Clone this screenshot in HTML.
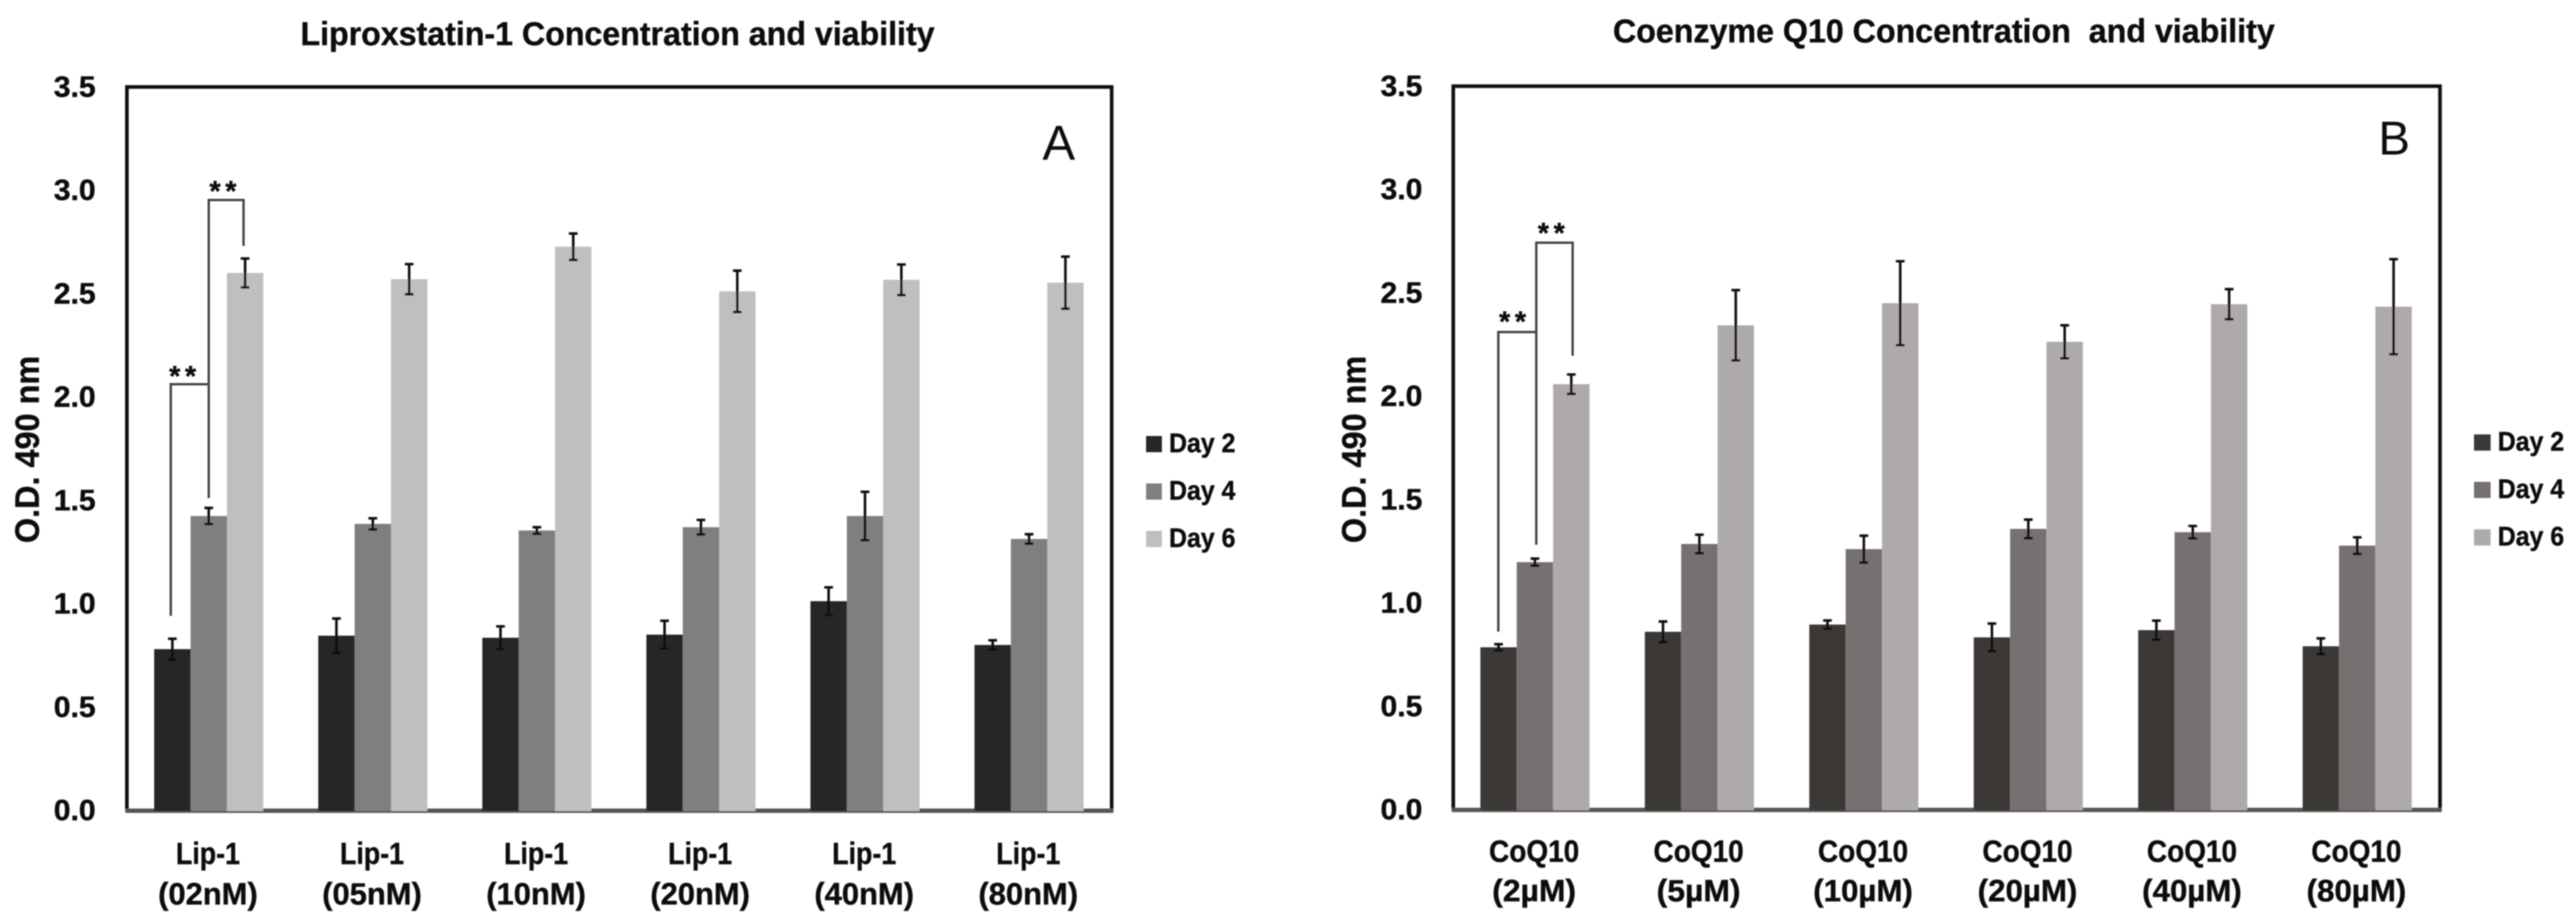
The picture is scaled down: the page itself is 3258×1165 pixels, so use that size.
<!DOCTYPE html>
<html lang="en">
<head>
<meta charset="utf-8">
<title>Liprostatin-1 and Coenzyme Q10 viability charts</title>
<style>
html,body{margin:0;padding:0;background:#fff;width:3258px;height:1165px;overflow:hidden}
svg{display:block}
text{font-family:"Liberation Sans",sans-serif;font-weight:bold;fill:#0a0a0a;stroke:#0a0a0a;stroke-width:0.5;white-space:pre}
text.thin{font-weight:normal;stroke:none}
</style>
</head>
<body>
<svg id="figure" xmlns="http://www.w3.org/2000/svg" width="3258" height="1165" viewBox="0 0 3258 1165">
  <defs>
    <filter id="soft" filterUnits="userSpaceOnUse" x="0" y="0" width="3258" height="1165">
      <feGaussianBlur stdDeviation="0.9"/>
    </filter>
  </defs>
  <rect x="0" y="0" width="3258" height="1165" fill="#ffffff"/>
  <g id="root" filter="url(#soft)">
    <text x="380" y="57" font-size="42" textLength="802" lengthAdjust="spacingAndGlyphs">Liproxstatin-1 Concentration and viability</text>
    <text x="2040" y="53.5" font-size="42" textLength="837" lengthAdjust="spacingAndGlyphs">Coenzyme Q10 Concentration  and viability</text>
    <text class="thin" x="1339" y="202" font-size="62" text-anchor="middle">A</text>
    <text class="thin" x="3008" y="195.5" font-size="60">B</text>
    <g id="chartA"></g>
    <g id="chartB"></g>
  </g>
</svg>
<script>
// ---- shared chart data ----
const tickValues = [0, 0.5, 1, 1.5, 2, 2.5, 3, 3.5];
const tickLabels = ["0.0", "0.5", "1.0", "1.5", "2.0", "2.5", "3.0", "3.5"];
const seriesNames = ["Day 2", "Day 4", "Day 6"];
const yAxisTitle = "O.D. 490 nm";

// ---- chart A: Liproxstatin-1 ----
const lipCategoryTop = ["Lip-1", "Lip-1", "Lip-1", "Lip-1", "Lip-1", "Lip-1"];
const lipCategoryBottom = ["(02nM)", "(05nM)", "(10nM)", "(20nM)", "(40nM)", "(80nM)"];
const lipDay2 = [0.78, 0.845, 0.835, 0.85, 1.012, 0.80];
const lipDay4 = [1.424, 1.386, 1.354, 1.37, 1.424, 1.313];
const lipDay6 = [2.60, 2.57, 2.727, 2.511, 2.567, 2.553];
const lipDay2Err = [0.05, 0.083, 0.055, 0.067, 0.067, 0.023];
const lipDay4Err = [0.039, 0.027, 0.016, 0.035, 0.117, 0.023];
const lipDay6Err = [0.07, 0.073, 0.064, 0.10, 0.074, 0.126];

// ---- chart B: Coenzyme Q10 ----
const coqCategoryTop = ["CoQ10", "CoQ10", "CoQ10", "CoQ10", "CoQ10", "CoQ10"];
const coqCategoryBottom = ["(2µM)", "(5µM)", "(10µM)", "(20µM)", "(40µM)", "(80µM)"];
const coqDay2 = [0.785, 0.86, 0.895, 0.833, 0.868, 0.79];
const coqDay4 = [1.197, 1.285, 1.26, 1.358, 1.342, 1.277];
const coqDay6 = [2.058, 2.343, 2.45, 2.263, 2.445, 2.433];
const coqDay2Err = [0.015, 0.05, 0.02, 0.067, 0.046, 0.038];
const coqDay4Err = [0.017, 0.045, 0.065, 0.045, 0.03, 0.04];
const coqDay6Err = [0.047, 0.17, 0.203, 0.08, 0.073, 0.23];

const SVG_NS = "http://www.w3.org/2000/svg";

function make(tag, parent, attrs, content) {
  const el = document.createElementNS(SVG_NS, tag);
  for (const key in attrs) el.setAttribute(key, attrs[key]);
  if (content !== undefined) el.textContent = content;
  parent.appendChild(el);
  return el;
}

function drawChart(cfg) {
  const root = document.getElementById(cfg.id);
  const yScale = function (v) { return cfg.zeroY - (v / 3.5) * (cfg.zeroY - cfg.topY); };
  const groupCenter = function (i) { return cfg.firstCenter + cfg.step * i; };
  const barWidth = 46;

  // Plot frame
  const frame = make("path", root, {
    d: "M" + cfg.leftX + " " + cfg.zeroY + "V" + cfg.topY + "H" + cfg.rightX + "V" + (cfg.zeroY + 2),
    fill: "none", stroke: "#0c0c0c", "stroke-width": 4.5
  });
  
  

  const axis = make("line", root, {
    x1: cfg.leftX - 2, x2: cfg.rightX + 2, y1: cfg.zeroY + 0.5, y2: cfg.zeroY + 0.5,
    stroke: "#555555", "stroke-width": 5.5
  });
  
  

  // Y tick labels
  tickValues.forEach(function (v, i) {
    const t = make("text", root, {
      x: cfg.tickX, y: yScale(v) + 12.5, "font-size": 37,
      textLength: 53, lengthAdjust: "spacingAndGlyphs"
    }, tickLabels[i]);
    
    
  });

  // Y axis title
  const yTitle = make("text", root, {
    transform: "translate(" + cfg.yTitleX + " 568.5) rotate(-90)",
    "text-anchor": "middle", "font-size": 43,
    textLength: 237, lengthAdjust: "spacingAndGlyphs"
  }, yAxisTitle);
  
  

  // Bars and error bars
  cfg.series.forEach(function (values, s) {
    values.forEach(function (v, i) {
      const left = groupCenter(i) - barWidth * 1.5 + barWidth * s;
      const bar = make("rect", root, {
        x: left, y: yScale(v), width: barWidth, height: cfg.zeroY + 1 - yScale(v), fill: cfg.colors[s]
      });
      
      
    });
  });
  cfg.series.forEach(function (values, s) {
    values.forEach(function (v, i) {
      const cx = groupCenter(i) - barWidth + barWidth * s;
      const e = cfg.errors[s][i];
      const hi = yScale(v + e);
      const lo = yScale(v - e);
      const err = make("path", root, {
        d: "M" + (cx - 5.5) + " " + hi + "H" + (cx + 5.5) + "M" + cx + " " + hi + "V" + lo + "M" + (cx - 5.5) + " " + lo + "H" + (cx + 5.5),
        fill: "none", stroke: "#111111", "stroke-width": 3.2
      });
      
      
    });
  });

  // Category labels
  cfg.catTop.forEach(function (label, i) {
    const cx = groupCenter(i) - 1;
    const top = make("text", root, {
      x: cx, y: cfg.catY1, "text-anchor": "middle", "font-size": 39,
      textLength: cfg.catTopWidth, lengthAdjust: "spacingAndGlyphs"
    }, label);
    
    
    const bottom = make("text", root, {
      x: cx, y: cfg.catY2, "text-anchor": "middle", "font-size": 39,
      textLength: 20 * cfg.catBottom[i].length + 6, lengthAdjust: "spacingAndGlyphs"
    }, cfg.catBottom[i]);
    
    
  });

  // Legend
  seriesNames.forEach(function (name, s) {
    const sw = make("rect", root, {
      x: cfg.legendX, y: cfg.legendY + s * 60, width: cfg.legendSw, height: 20.5, fill: cfg.colors[s]
    });
    
    
    const t = make("text", root, {
      x: cfg.legendTextX, y: cfg.legendY + 20.5 + s * 60, "font-size": 34,
      textLength: 84, lengthAdjust: "spacingAndGlyphs"
    }, name);
    
    
  });

  // Significance brackets
  cfg.brackets.forEach(function (b) {
    const br = make("path", root, {
      d: "M" + b[0] + " " + b[1] + "V" + b[2] + "H" + b[3] + "V" + b[4],
      fill: "none", stroke: "#444444", "stroke-width": 3
    });
    
    
    const st = make("text", root, {
      x: b[5], y: b[6], "text-anchor": "middle", "font-size": 36,
      textLength: 34, lengthAdjust: "spacing"
    }, "**");
    
    
  });
}

drawChart({
  id: "chartA", leftX: 160.5, rightX: 1406, topY: 110, zeroY: 1025,
  firstCenter: 264, step: 207.5, tickX: 68, yTitleX: 49,
  colors: ["#262626", "#7f7f7f", "#bfbfbf"],
  series: [lipDay2, lipDay4, lipDay6],
  errors: [lipDay2Err, lipDay4Err, lipDay6Err],
  catTop: lipCategoryTop, catBottom: lipCategoryBottom, catTopWidth: 81, catY1: 1093, catY2: 1144,
  legendX: 1449.5, legendY: 551.5, legendSw: 20, legendTextX: 1478.5,
  brackets: [
    [216, 779, 486, 264, 486, 231, 488],
    [264, 630, 253, 308, 311, 282, 254]
  ]
});

drawChart({
  id: "chartB", leftX: 1838, rightX: 3086, topY: 109, zeroY: 1024,
  firstCenter: 1941.3, step: 208, tickX: 1746, yTitleX: 1727,
  colors: ["#3a3836", "#767170", "#aeaaaa"],
  series: [coqDay2, coqDay4, coqDay6],
  errors: [coqDay2Err, coqDay4Err, coqDay6Err],
  catTop: coqCategoryTop, catBottom: coqCategoryBottom, catTopWidth: 114, catY1: 1090, catY2: 1140,
  legendX: 3129, legendY: 549.5, legendSw: 21, legendTextX: 3159,
  brackets: [
    [1895, 799, 420, 1943, 420, 1913, 419],
    [1943, 689, 307, 1989, 450, 1962, 307]
  ]
});
</script>
</body>
</html>
